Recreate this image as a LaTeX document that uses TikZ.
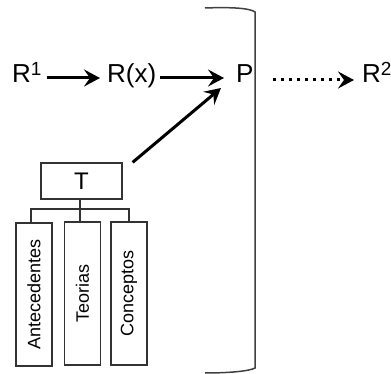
\documentclass[tikz,border=0pt]{standalone}
\usepackage{fontspec}
\setmainfont{Liberation Sans}
\usetikzlibrary{arrows.meta}
\newcommand{\supnum}[1]{\raisebox{7pt}{\fontsize{19}{19}\selectfont #1}}
\begin{document}
\begin{tikzpicture}[x=1pt,y=-1pt,
  lbl/.style={inner sep=0pt,anchor=base west,font=\fontsize{26}{26}\selectfont},
  flow/.style={line width=3pt,-{Stealth[length=16pt,width=17pt,inset=6pt]}},
  dotflow/.style={line width=3pt,dash pattern=on 3pt off 5pt,-{Stealth[length=16pt,width=17pt,inset=6pt]}},
  tbox/.style={draw=black!80,line width=1.3pt,inner sep=0pt,minimum width=81,minimum height=36,font=\fontsize{24}{24}\selectfont},
  vbox/.style={draw=black!80,line width=1.3pt,inner sep=0pt,rotate=90,minimum width=143,minimum height=36,font=\fontsize{18}{18}\selectfont},
  tree/.style={draw=black!80,line width=1.3pt},
  bracket/.style={draw=black!75,line width=1.5pt}]
\useasboundingbox (0,0) rectangle (391,374);

% main chain
\node[lbl] (r1) at (12,83) {R\supnum{1}};
\node[lbl] (rx) at (107,83) {R(x)};
\node[lbl] (p)  at (236,83) {P};
\node[lbl] (r2) at (362,83) {R\supnum{2}};

\draw[flow] ([shift={(5,-5)}]r1.base east) -- ([shift={(-7,-5)}]rx.base west);
\draw[flow] ([shift={(4,-5)}]rx.base east) -- ([shift={(-12,-5)}]p.base west);
\draw[dotflow] ([shift={(19,-3)}]p.base east) -- ([shift={(-8,-3)}]r2.base west);

% bracket closing the P block
\draw[bracket] (205,8) .. controls (230,7) and (250,8) .. (255,12)
  -- (255,368) .. controls (250,371) and (230,373) .. (205,373);

% theory block
\node[tbox] (t) at (81.5,181) {T};
\node[vbox] (ant) at (34,294.5) {Antecedentes};
\node[vbox] (teo) at (82.5,293.5) {Teorias};
\node[vbox] (con) at (129,293.5) {Conceptos};

\coordinate (j) at (80,209);
\draw[tree] (t.south -| j) -- (j) -- (teo.east -| j);
\draw[tree] ([xshift=-3pt]ant.east) |- (j) -| (con.east);

\draw[flow] ([shift={(10,0)}]t.north east) -- ([shift={(-15,5)}]p.base west);
\end{tikzpicture}
\end{document}
